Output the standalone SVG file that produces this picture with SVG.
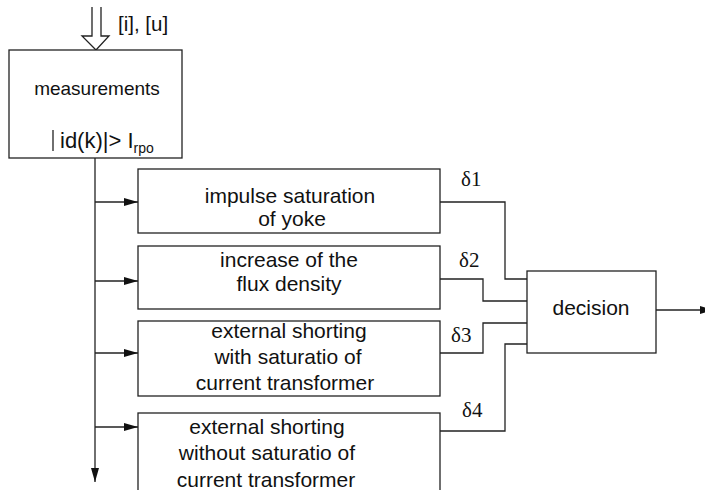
<svg xmlns="http://www.w3.org/2000/svg" width="705" height="490" viewBox="0 0 705 490">
<style>
.box{fill:#fff;stroke:#222;stroke-width:1.3}
.ln{fill:none;stroke:#222;stroke-width:1.3}
.t{font-family:"Liberation Sans",Arial,sans-serif;font-size:21px;fill:#111;text-anchor:middle}
.d{font-family:"Liberation Serif","Times New Roman",serif;font-size:21px;fill:#111}
</style>
<defs>
<marker id="ah" viewBox="0 0 14 8" refX="14" refY="4" markerWidth="14" markerHeight="8" markerUnits="userSpaceOnUse" orient="auto">
<path d="M0,0 L14,4 L0,8 Z" fill="#111"/>
</marker>
</defs>
<rect width="705" height="490" fill="#fff"/>
<g id="input">
<path class="ln" d="M92,7 V36 H82 L96,50 L109,36 H101 V7"/>
<text x="118" y="31" style="font-family:'Liberation Sans',Arial,sans-serif;font-size:20.5px;fill:#111">[i], [u]</text>
</g>
<g id="measurements">
<rect class="box" x="9" y="50" width="173" height="108"/>
<text class="t" x="97" y="95" style="font-size:19px">measurements</text>
<line class="ln" x1="53" y1="130" x2="53" y2="151"/>
<text x="60" y="148" style="font-family:'Liberation Sans',Arial,sans-serif;font-size:22px;fill:#111">id(k)|&gt; I<tspan dy="5" style="font-size:14px">rpo</tspan></text>
</g>
<g id="connectors">
<line class="ln" x1="95" y1="158" x2="95" y2="482" marker-end="url(#ah)"/>
<line class="ln" x1="95" y1="202" x2="138" y2="202" marker-end="url(#ah)"/>
<line class="ln" x1="95" y1="281" x2="138" y2="281" marker-end="url(#ah)"/>
<line class="ln" x1="95" y1="353" x2="138" y2="353" marker-end="url(#ah)"/>
<line class="ln" x1="95" y1="427" x2="138" y2="427" marker-end="url(#ah)"/>
<path class="ln" d="M440,202 H505 V279 H527"/>
<path class="ln" d="M440,279 H483 V301 H527"/>
<path class="ln" d="M440,353 H483 V323 H527"/>
<path class="ln" d="M440,431 H505 V344 H527"/>
<line class="ln" x1="656" y1="310" x2="714" y2="310" marker-end="url(#ah)"/>
<text class="d" x="461" y="186">δ1</text>
<text class="d" x="459" y="267">δ2</text>
<text class="d" x="451" y="342">δ3</text>
<text class="d" x="462" y="417">δ4</text>
</g>
<g id="box1">
<rect class="box" x="138" y="169" width="302" height="64"/>
<text class="t" x="290" y="203">impulse saturation</text>
<text class="t" x="292" y="226">of yoke</text>
</g>
<g id="box2">
<rect class="box" x="138" y="246" width="302" height="63"/>
<text class="t" x="289" y="267">increase of the</text>
<text class="t" x="289" y="291">flux density</text>
</g>
<g id="box3">
<rect class="box" x="138" y="321" width="302" height="75"/>
<text class="t" x="289" y="338">external shorting</text>
<text class="t" x="288" y="364">with saturatio of</text>
<text class="t" x="285" y="390">current transformer</text>
</g>
<g id="box4">
<rect class="box" x="138" y="413" width="302" height="90"/>
<text class="t" x="267" y="434">external shorting</text>
<text class="t" x="267" y="460">without saturatio of</text>
<text class="t" x="266" y="487">current transformer</text>
</g>
<g id="decision">
<rect class="box" x="527" y="271" width="129" height="82"/>
<text class="t" x="591" y="315">decision</text>
</g>
</svg>
